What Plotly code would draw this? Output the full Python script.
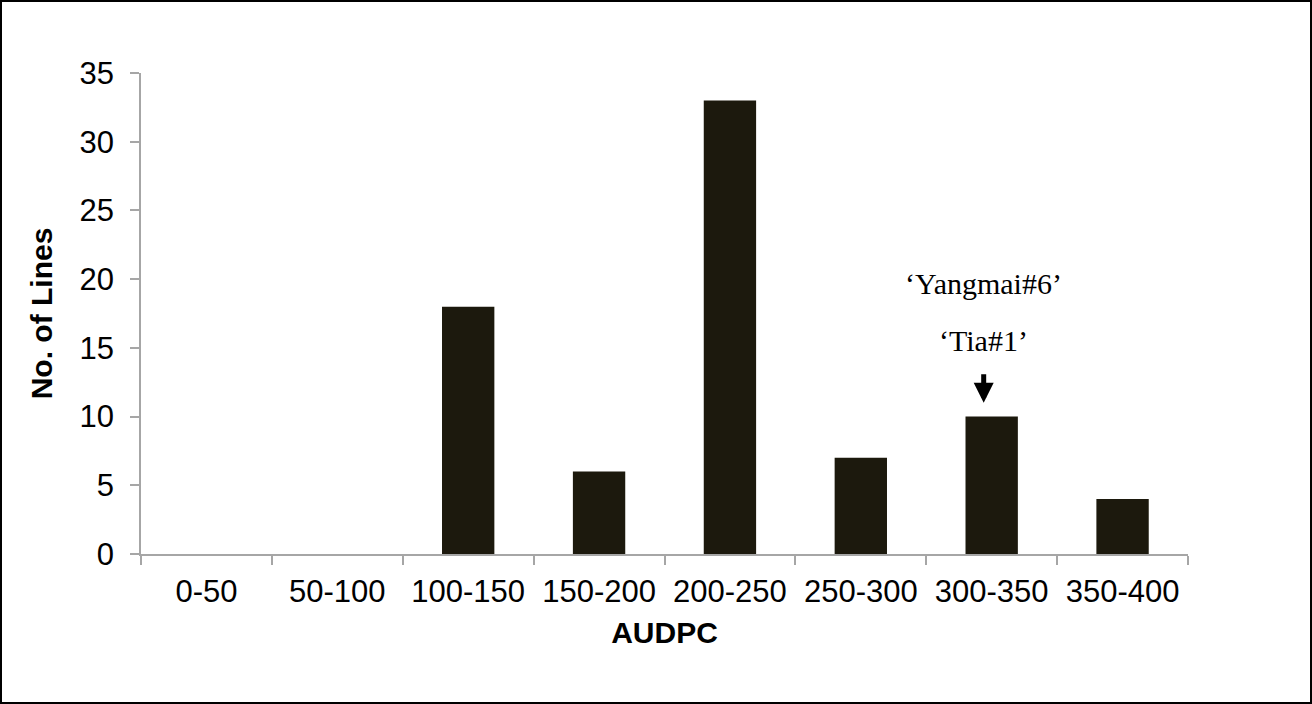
import plotly.graph_objects as go

# AUDPC classes and number of lines per class
classes = ["0-50", "50-100", "100-150", "150-200", "200-250", "250-300", "300-350", "350-400"]
n_lines = [0, 0, 18, 6, 33, 7, 10, 4]
y_ticks = [0, 5, 10, 15, 20, 25, 30, 35]

# check cultivars marked on the chart
marked_class = "300-350"
marked_names = ["\u2018Yangmai#6\u2019", "\u2018Tia#1\u2019"]

W, H = 1312, 704
ML, MR, MT, MB = 141, 124, 73, 150
pw, ph = W - ML - MR, H - MT - MB

fig = go.Figure()
fig.add_trace(go.Bar(
    x=classes, y=n_lines,
    marker=dict(color="#1c190d", line=dict(width=0)),
))

axis_grey = "#a6a6a6"
fig.update_layout(
    width=W, height=H,
    margin=dict(l=ML, r=MR, t=MT, b=MB),
    paper_bgcolor="white", plot_bgcolor="white",
    showlegend=False,
    bargap=0.6,
    font=dict(family="Liberation Sans, Arial", size=31, color="black"),
    xaxis=dict(
        title=dict(text="<b>AUDPC</b>", font=dict(size=30), standoff=14),
        showline=True, linecolor=axis_grey, linewidth=1.5,
        ticks="outside", tickson="boundaries", ticklen=9, tickcolor=axis_grey, tickwidth=1.5,
        showgrid=False, ticklabelstandoff=9,
    ),
    yaxis=dict(
        title=dict(text="<b>No. of Lines</b>", font=dict(size=30), standoff=18),
        range=[0, 35], tickvals=y_ticks,
        showline=True, linecolor=axis_grey, linewidth=1.5,
        ticks="outside", ticklen=9, tickcolor=axis_grey, tickwidth=1.5,
        showgrid=False, zeroline=False, ticklabelstandoff=10,
    ),
)

# labels above the 300-350 bar
serif = dict(family="Liberation Serif, Times New Roman", size=30, color="black")
fig.add_annotation(x=marked_class, y=19.7, text=marked_names[0], showarrow=False,
                   font=serif, xshift=-8)
fig.add_annotation(x=marked_class, y=15.5, text=marked_names[1], showarrow=False,
                   font=serif, xshift=-8)
# downward arrow
fig.add_annotation(x=marked_class, y=11.0, text="", showarrow=True, xshift=-8,
                   ax=0, ay=-30, arrowhead=2, arrowsize=0.8, arrowwidth=5, arrowcolor="black")

# outer border around the whole picture
fig.add_shape(type="rect", xref="paper", yref="paper",
              x0=(-ML + 1) / pw, x1=(pw + MR - 1) / pw,
              y0=(-MB + 1) / ph, y1=(ph + MT - 1) / ph,
              line=dict(color="black", width=2))

fig.write_html("out.html", config={"displayModeBar": False},
               post_script="document.body.style.margin='0';")
